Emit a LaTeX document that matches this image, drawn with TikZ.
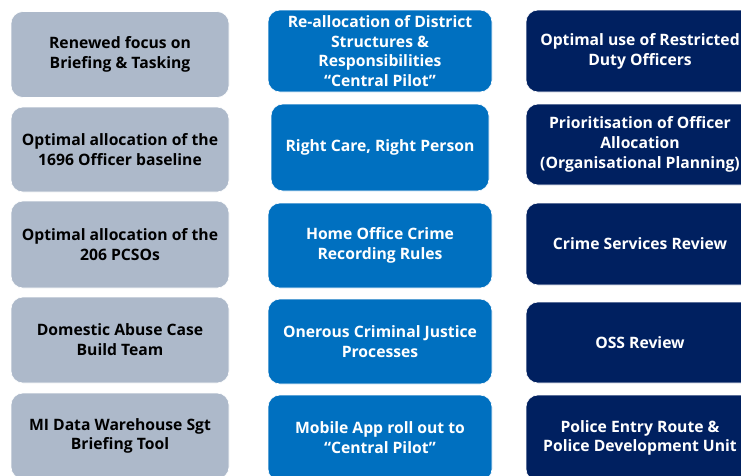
\documentclass[tikz,border=0pt]{standalone}
\usepackage{fontspec}
\setmainfont{Open Sans}
\usepackage{xcolor}
\definecolor{greyblue}{HTML}{ADB9CA}
\definecolor{midblue}{HTML}{0070C0}
\definecolor{navy}{HTML}{002060}
\usepackage{tikz}

\begin{document}
\begin{tikzpicture}[x=1pt,y=-1pt,
	box/.style={rectangle,rounded corners=12pt,draw=white,line width=.6pt,align=center,inner sep=0pt,
		font=\bfseries\fontsize{15.7}{19.8}\selectfont},
	greybox/.style={box,fill=greyblue,text=black,minimum width=218pt,minimum height=86pt},
	bluebox/.style={box,fill=midblue,text=white,minimum width=224pt,minimum height=85pt},
	navybox/.style={box,fill=navy,text=white,minimum width=228pt,minimum height=82pt}]
	\useasboundingbox (0,0) rectangle (741,475);
	\clip (0,0) rectangle (741,475);
	\node[greybox] (g1) at (120,54.5) {Renewed focus on\\Briefing \& Tasking};
	\node[greybox,minimum height=85pt] (g2) at (120,149.5) {Optimal allocation of the\\1696 Officer baseline};
	\node[greybox,minimum height=87pt] (g3) at (120,244.5) {Optimal allocation of the\\206 PCSOs};
	\node[greybox] (g4) at (120,340) {Domestic Abuse Case\\Build Team};
	\node[greybox] (g5) at (120,436) {MI Data Warehouse Sgt\\Briefing Tool};
	\node[bluebox,minimum height=82pt] (b1) at (380,51) {Re-allocation of District\\Structures \&\\Responsibilities\\``Central Pilot''};
	\node[bluebox,minimum width=218pt,minimum height=87pt] (b2) at (380,147.5) {Right Care, Right Person};
	\node[bluebox] (b3) at (380,245.5) {Home Office Crime\\Recording Rules};
	\node[bluebox] (b4) at (380,341.5) {Onerous Criminal Justice\\Processes};
	\node[bluebox,minimum height=86pt] (b5) at (380,438) {Mobile App roll out to\\``Central Pilot''};
	\node[navybox] (n1) at (640,51) {Optimal use of Restricted\\Duty Officers};
	\node[navybox,minimum height=81pt] (n2) at (640,144.5) {Prioritisation of Officer\\Allocation\\(Organisational Planning)};
	\node[navybox] (n3) at (640,244) {Crime Services Review};
	\node[navybox,minimum height=81pt] (n4) at (640,342.5) {OSS Review};
	\node[navybox,minimum height=86pt] (n5) at (640,438) {Police Entry Route \&\\Police Development Unit};
\end{tikzpicture}
\end{document}
